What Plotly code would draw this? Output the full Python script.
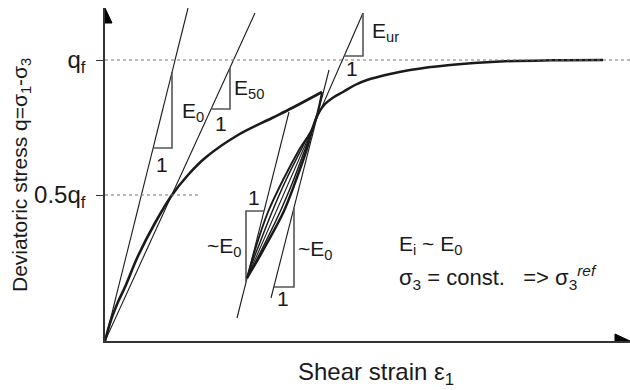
import plotly.graph_objects as go

# schematic stress-strain data (arbitrary units, q_f = 281)
q_f = 281
q_half = 146

virgin_x = [0, 6, 13, 20, 33, 50, 67, 83, 100, 133, 167, 187, 217]
virgin_y = [0, 21, 39, 54, 85, 118, 146, 166, 183, 206, 223, 233, 249]

unload_x = [217, 208, 194, 178, 163, 151.5, 146.5, 142]
unload_y = [249, 214, 191, 161, 129, 96, 79, 63]

mid1_x = [208, 196, 181, 167, 154, 147.5, 142]
mid1_y = [214, 191, 161, 129, 96, 79, 63]

mid2_x = [208, 199.8, 188.5, 175, 159, 150.5, 142]
mid2_y = [214, 191, 161, 129, 96, 79, 63]

reload_x = [142, 151.5, 161, 178.5, 191, 201.5, 208, 213, 220, 229, 238, 250, 262, 285, 305, 345, 395, 445, 498]
reload_y = [63, 79, 96, 129, 161, 191, 214, 227, 237, 244, 249, 256, 261, 267, 271, 276, 279.5, 280.7, 281]

# straight modulus lines (end points)
e0_x, e0_y = [0, 83], [0, 333]
e50_x, e50_y = [0, 150], [0, 328]
eur_x, eur_y = [142, 258], [63, 328]
lineA_x, lineA_y = [132, 184], [23, 229]
lineB_x, lineB_y = [166, 224], [43, 271]

# slope triangles
tri_e0_x, tri_e0_y = [48, 67, 67], [193, 193, 269]
tri_e50_x, tri_e50_y = [106, 125, 125], [232, 232, 273]
tri_eur_x, tri_eur_y = [239, 258, 258], [285, 285, 328]
tri_a_x, tri_a_y = [141, 141, 159], [59, 130, 130]
tri_b_x, tri_b_y = [189, 189, 169], [133, 54, 54]

FONT = 'Liberation Sans, Arial, sans-serif'
INK = '#1a1a1a'

fig = go.Figure()

def add_line(x, y, width, color=INK, smooth=False):
    fig.add_trace(go.Scatter(x=x, y=y, mode='lines',
                             line=dict(color=color, width=width,
                                       shape='spline' if smooth else 'linear'),
                             cliponaxis=False, hoverinfo='skip'))

for x, y in [(e0_x, e0_y), (e50_x, e50_y), (eur_x, eur_y), (lineA_x, lineA_y), (lineB_x, lineB_y)]:
    add_line(x, y, 1.1)

for x, y in [(tri_e0_x, tri_e0_y), (tri_e50_x, tri_e50_y), (tri_eur_x, tri_eur_y),
             (tri_a_x, tri_a_y), (tri_b_x, tri_b_y)]:
    add_line(x, y, 1.6, color='#555555')

add_line(virgin_x, virgin_y, 2.6, smooth=True)
add_line(unload_x, unload_y, 1.9, smooth=True)
add_line(mid1_x, mid1_y, 1.5, smooth=True)
add_line(mid2_x, mid2_y, 1.5, smooth=True)
add_line(reload_x, reload_y, 2.5, smooth=True)

# dotted reference lines
fig.add_shape(type='line', x0=0, x1=525, y0=q_f, y1=q_f,
              line=dict(color='#777777', width=1, dash='dot'))
fig.add_shape(type='line', x0=0, x1=93, y0=q_half, y1=q_half,
              line=dict(color='#777777', width=1, dash='dot'))

# axis arrow heads
fig.add_shape(type='path', xref='x', yref='y', xsizemode='pixel', ysizemode='pixel',
              xanchor=0, yanchor=333, path='M -7,-15 L 0,0 L 7,-15 Z',
              fillcolor='black', line=dict(color='black', width=1))
fig.add_shape(type='path', xref='x', yref='y', xsizemode='pixel', ysizemode='pixel',
              xanchor=525, yanchor=0, path='M -15,-7 L 0,0 L -15,7 Z',
              fillcolor='black', line=dict(color='black', width=1))

labels = [
    (75, 229, 'E<sub>0</sub>', 'left', 21),
    (127, 252, 'E<sub>50</sub>', 'left', 21),
    (57, 177, '1', 'center', 21),
    (116, 218, '1', 'center', 21),
    (265, 309, 'E<sub>ur</sub>', 'left', 21),
    (247, 273, '1', 'center', 21),
    (149, 144, '1', 'center', 21),
    (138, 94, '~E<sub>0</sub>', 'right', 21),
    (191, 91, '~E<sub>0</sub>', 'left', 21),
    (178, 43, '1', 'center', 21),
    (292, 96, 'E<sub>i</sub> ~ E<sub>0</sub>', 'left', 21),
    (292, 64, 'σ<sub>3</sub> = const.\u00a0\u00a0\u00a0=> σ<sub>3</sub><sup><i>ref</i></sup>', 'left', 22),
]
for x, y, t, anchor, size in labels:
    fig.add_annotation(x=x, y=y, text=t, showarrow=False, xanchor=anchor, yanchor='middle',
                       font=dict(family=FONT, size=size, color=INK))

fig.add_annotation(x=0, xref='paper', xshift=-84, y=166, yref='y', textangle=-90,
                   text='Deviatoric stress q=σ<sub>1</sub>-σ<sub>3</sub>', showarrow=False,
                   xanchor='center', yanchor='middle', font=dict(family=FONT, size=21, color=INK))
fig.add_annotation(x=271, y=0, yref='paper', yshift=-32, text='Shear strain ε<sub>1</sub>',
                   showarrow=False, xanchor='center', yanchor='middle',
                   font=dict(family=FONT, size=24, color=INK))

fig.update_layout(width=630, height=390, showlegend=False,
                  margin=dict(l=105, r=0, t=8, b=49),
                  paper_bgcolor='white', plot_bgcolor='white',
                  font=dict(family=FONT, size=21, color=INK))
fig.update_xaxes(range=[0, 525], showgrid=False, zeroline=False, showline=True,
                 linecolor='#333333', linewidth=1.5, showticklabels=False, ticks='')
fig.update_yaxes(range=[0, 333], showgrid=False, zeroline=False, showline=True,
                 linecolor='#333333', linewidth=1.5,
                 tickvals=[q_half, q_f], ticktext=['0.5q<sub>f</sub>', 'q<sub>f</sub>'],
                 ticks='outside', ticklen=7, tickwidth=1.2, tickcolor='#333333',
                 ticklabelstandoff=6,
                 tickfont=dict(family=FONT, size=24, color=INK))

fig.write_html("out.html", config={'displayModeBar': False},
               post_script="document.body.style.margin='0';")
